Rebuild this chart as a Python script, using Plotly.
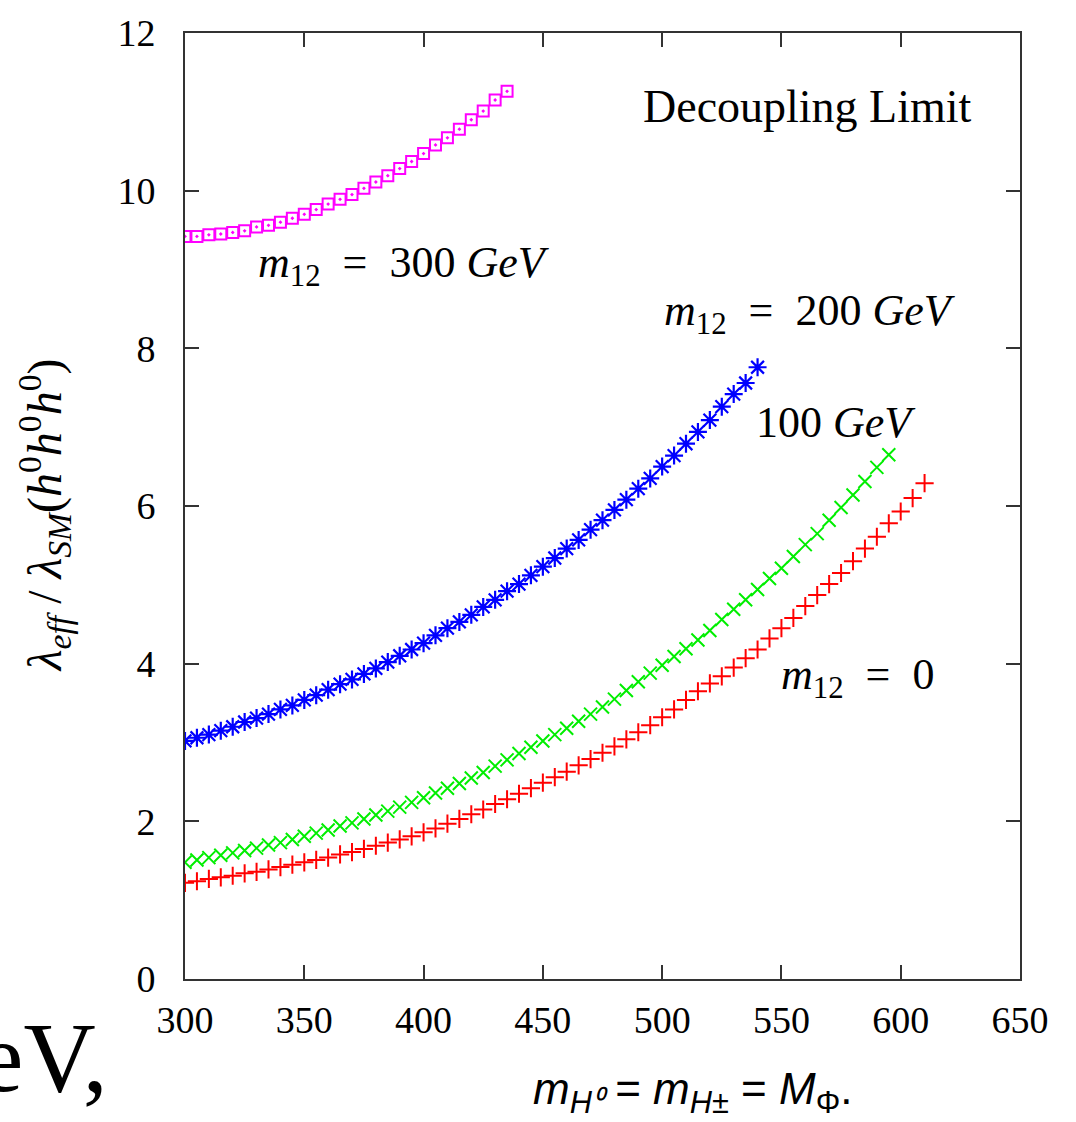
import plotly.graph_objects as go

# Heavy Higgs mass M_Phi (GeV) for each curve, 5 GeV steps
mass_m0 = list(range(300, 611, 5))
mass_m100 = list(range(300, 596, 5))
mass_m200 = list(range(300, 541, 5))
mass_m300 = list(range(300, 436, 5))

# lambda_eff / lambda_SM for m12 = 0
ratio_m0 = [1.22, 1.24, 1.27, 1.29, 1.31, 1.34, 1.36, 1.39, 1.42, 1.45,
            1.48, 1.51, 1.54, 1.58, 1.61, 1.65, 1.69, 1.73, 1.77, 1.81,
            1.86, 1.91, 1.97, 2.03, 2.09, 2.15, 2.22, 2.28, 2.35, 2.42,
            2.49, 2.56, 2.63, 2.71, 2.79, 2.87, 2.95, 3.04, 3.13, 3.22,
            3.32, 3.42, 3.54, 3.65, 3.75, 3.84, 3.95, 4.07, 4.18, 4.32,
            4.45, 4.58, 4.73, 4.87, 5.01, 5.15, 5.30, 5.46, 5.61, 5.78,
            5.93, 6.10, 6.29]

# m12 = 100 GeV
ratio_m100 = [1.48, 1.51, 1.54, 1.57, 1.60, 1.63, 1.66, 1.70, 1.73, 1.77,
              1.81, 1.85, 1.89, 1.94, 1.98, 2.03, 2.08, 2.13, 2.18, 2.24,
              2.30, 2.36, 2.42, 2.48, 2.55, 2.62, 2.70, 2.78, 2.86, 2.94,
              3.02, 3.10, 3.18, 3.27, 3.36, 3.45, 3.55, 3.66, 3.77, 3.88,
              3.98, 4.09, 4.19, 4.30, 4.42, 4.56, 4.69, 4.81, 4.94, 5.08,
              5.21, 5.36, 5.51, 5.65, 5.82, 5.98, 6.14, 6.31, 6.49, 6.65]

# m12 = 200 GeV
ratio_m200 = [3.02, 3.06, 3.10, 3.15, 3.20, 3.26, 3.31, 3.36, 3.42, 3.47,
              3.54, 3.60, 3.67, 3.74, 3.80, 3.87, 3.94, 4.02, 4.10, 4.18,
              4.26, 4.36, 4.45, 4.53, 4.62, 4.72, 4.81, 4.92, 5.01, 5.12,
              5.23, 5.34, 5.46, 5.57, 5.70, 5.82, 5.95, 6.08, 6.22, 6.35,
              6.50, 6.64, 6.79, 6.94, 7.09, 7.26, 7.42, 7.56, 7.76]

# m12 = 300 GeV
ratio_m300 = [9.42, 9.42, 9.44, 9.45, 9.47, 9.49, 9.54, 9.56, 9.60, 9.65,
              9.70, 9.76, 9.83, 9.89, 9.95, 10.03, 10.11, 10.19, 10.28, 10.37,
              10.47, 10.58, 10.67, 10.78, 10.90, 11.01, 11.15, 11.26]

x_ticks = [300, 350, 400, 450, 500, 550, 600, 650]
y_ticks = [0, 2, 4, 6, 8, 10, 12]

SERIF = "Liberation Serif"
EQ = "\u2002=\u2002"  # roomy spacing around "=" as in typeset math

fig = go.Figure()

fig.add_trace(go.Scatter(
    x=mass_m0, y=ratio_m0, mode="markers", name="m12 = 0",
    marker=dict(symbol="cross-thin", size=13, color="#ff0000",
                line=dict(color="#ff0000", width=2)),
))
fig.add_trace(go.Scatter(
    x=mass_m100, y=ratio_m100, mode="markers", name="m12 = 100 GeV",
    marker=dict(symbol="x-thin", size=13, color="#00ee00",
                line=dict(color="#00ee00", width=2)),
))
fig.add_trace(go.Scatter(
    x=mass_m200, y=ratio_m200, mode="markers", name="m12 = 200 GeV",
    marker=dict(symbol="asterisk", size=15, color="#0000ff",
                line=dict(color="#0000ff", width=2.2)),
))
fig.add_trace(go.Scatter(
    x=mass_m300, y=ratio_m300, mode="markers", name="m12 = 300 GeV",
    marker=dict(symbol="square-open-dot", size=11, color="#ff00ff",
                line=dict(color="#ff00ff", width=2)),
))

axis_style = dict(
    showgrid=False, zeroline=False,
    showline=True, linecolor="#333333", linewidth=2, mirror="ticks",
    ticks="inside", ticklen=14, tickwidth=1.5, tickcolor="#333333",
    tickfont=dict(family=SERIF, size=38, color="black"),
)

fig.update_xaxes(range=[300, 650], tickvals=x_ticks, ticklabelstandoff=6,
                 **axis_style)
fig.update_yaxes(range=[0, 12], tickvals=y_ticks, ticklabelstandoff=20,
                 **axis_style)

label_font = dict(family=SERIF, size=46, color="black")
math_font = dict(family=SERIF, size=44, color="black")

def note(x, y, text, font, **kw):
    return dict(x=x, y=y, xref="x", yref="y", text=text, showarrow=False,
                xanchor="center", yanchor="middle", font=font, **kw)

annotations = [
    note(561, 11.07, "Decoupling Limit", label_font),
    note(392, 9.05, "<i>m</i><sub>12</sub>" + EQ + "300 <i>GeV</i>", math_font),
    note(562, 8.44, "<i>m</i><sub>12</sub>" + EQ + "200 <i>GeV</i>", math_font),
    note(573, 7.06, "100 <i>GeV</i>", math_font),
    note(582, 3.83, "<i>m</i><sub>12</sub>" + EQ + "0", math_font),
    # vertical axis title
    dict(x=-0.168, y=0.49, xref="paper", yref="paper", textangle=-90,
         xanchor="center", yanchor="middle",
         text="<i>λ<sub>eff</sub></i> / <i>λ<sub>SM</sub></i>(<i>h</i><sup>0</sup><i>h</i><sup>0</sup><i>h</i><sup>0</sup>)",
         showarrow=False, font=dict(family=SERIF, size=48, color="black")),
    # horizontal axis caption
    dict(x=0.608, y=-0.119, xref="paper", yref="paper",
         xanchor="center", yanchor="middle",
         text="<i>m<sub>H⁰</sub></i> = <i>m<sub>H±</sub></i> = <i>M</i><sub>Φ</sub>.",
         showarrow=False, font=dict(family="Liberation Sans", size=44, color="black")),
    # trailing text of the surrounding paragraph
    dict(x=-0.09, y=-0.083, xref="paper", yref="paper",
         xanchor="right", yanchor="middle",
         text="eV,", showarrow=False,
         font=dict(family=SERIF, size=100, color="black")),
]

fig.update_layout(
    width=1076, height=1122,
    margin=dict(l=185, r=56, t=28, b=143),
    paper_bgcolor="white", plot_bgcolor="white",
    showlegend=False,
    annotations=annotations,
)

fig.write_html("out.html")
